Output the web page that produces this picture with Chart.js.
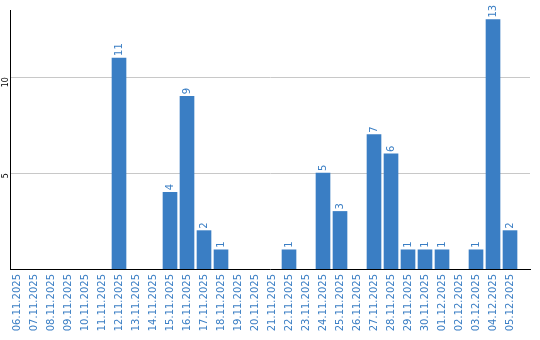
<!DOCTYPE html>
<html><head><meta charset="utf-8">
<script src="https://cdn.jsdelivr.net/npm/chart.js@4"></script>
<style>html,body{margin:0;padding:0;background:#fff}#wrap{width:540px;height:340px}</style>
</head><body><div id="wrap"><canvas id="c"></canvas></div>
<script>
const categories = ["06.11.2025","07.11.2025","08.11.2025","09.11.2025","10.11.2025","11.11.2025","12.11.2025","13.11.2025","14.11.2025","15.11.2025","16.11.2025","17.11.2025","18.11.2025","19.11.2025","20.11.2025","21.11.2025","22.11.2025","23.11.2025","24.11.2025","25.11.2025","26.11.2025","27.11.2025","28.11.2025","29.11.2025","30.11.2025","01.12.2025","02.12.2025","03.12.2025","04.12.2025","05.12.2025"];
const values = [0,0,0,0,0,0,11,0,0,4,9,2,1,0,0,0,1,0,5,3,0,7,6,1,1,1,0,1,13,2];
const yTicks = [5,10];
const blue = '#3a7ec4';
const points = values.map((v,i)=>({x:i, y:v}));
const labelPlugin = {
  id:'barLabels',
  afterDatasetsDraw(chart){
    const ctx = chart.ctx;
    const meta = chart.getDatasetMeta(0);
    ctx.save();
    ctx.font = '10px "DejaVu Sans"';
    ctx.fillStyle = blue;
    ctx.textAlign = 'left';
    ctx.textBaseline = 'middle';
    meta.data.forEach((bar,i)=>{
      const v = values[i];
      if (!v) return;
      ctx.save();
      ctx.translate(bar.x, bar.y - 2);
      ctx.rotate(-Math.PI/2);
      ctx.fillText(String(v), 0, 0);
      ctx.restore();
    });
    ctx.restore();
  }
};
new Chart(document.getElementById('c'), {
  type:'bar',
  data:{datasets:[{data:points, backgroundColor:c=>(c.raw && c.raw.y ? blue : 'rgba(0,0,0,0)'), barThickness:14}]},
  options:{
    responsive:true, maintainAspectRatio:false, animation:false,
    layout:{padding:{top:10,right:10,left:0,bottom:0}},
    plugins:{legend:{display:false}, tooltip:{enabled:false}},
    scales:{
      x:{
        type:'linear', min:-0.4118, max:30.176, offset:false,
        afterBuildTicks(scale){ scale.ticks = categories.map((c,i)=>({value:i})); },
        afterFit(scale){ scale.height = 71; scale.paddingLeft = 0; scale.paddingRight = 0; },
        grid:{display:false, drawTicks:false, offset:false},
        border:{display:true,color:'#000',width:1},
        ticks:{minRotation:90,maxRotation:90,autoSkip:false,color:blue,font:{family:'DejaVu Sans',size:10},padding:5,
          callback(v){ return categories[v] ?? ''; }}
      },
      y:{
        min:0,max:13.5,
        afterBuildTicks(scale){ scale.ticks = yTicks.map(v=>({value:v})); },
        afterFit(scale){ scale.width = 10; },
        grid:{color:'#c8c8c8',drawTicks:false},
        border:{display:true,color:'#000',width:1},
        ticks:{minRotation:90,maxRotation:90,color:'#000',font:{family:'DejaVu Sans',size:8},padding:4}
      }
    }
  },
  plugins:[labelPlugin]
});
</script></body></html>
